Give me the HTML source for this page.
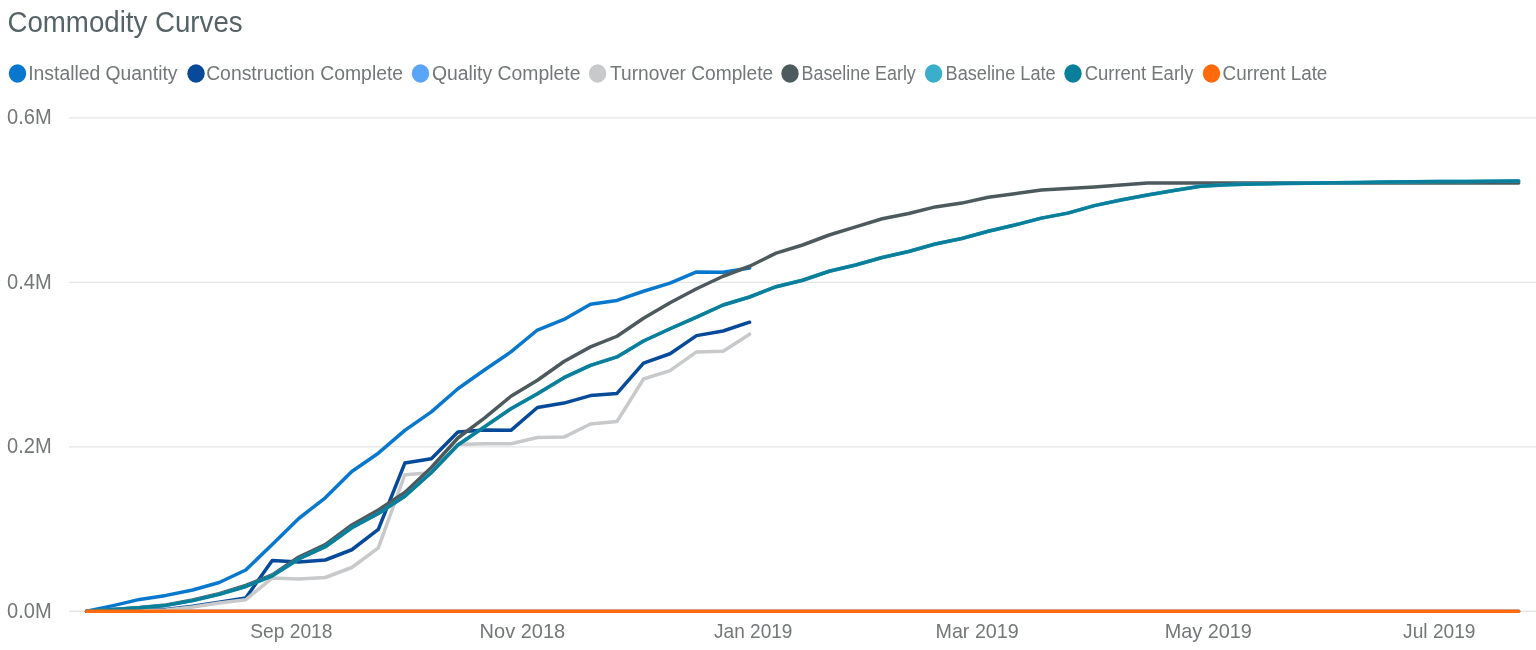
<!DOCTYPE html>
<html lang="en"><head><meta charset="utf-8"><title>Commodity Curves</title>
<style>
html,body{margin:0;padding:0;background:#fff;}
body{width:1536px;height:650px;overflow:hidden;font-family:"Liberation Sans",sans-serif;}
svg{display:block;}
text{font-family:"Liberation Sans",sans-serif;}
.title{font-size:29.4px;fill:#566366;}
.lg{font-size:19.5px;fill:#737778;}
.ax{font-size:21.5px;fill:#737778;}
.xl{font-size:21px;fill:#737778;}
.grid{stroke:#e4e5e5;stroke-width:1.3;}
.ln{fill:none;stroke-width:3.5;stroke-linejoin:round;stroke-linecap:round;}
</style></head><body>
<svg width="1536" height="650" viewBox="0 0 1536 650">
<rect width="1536" height="650" fill="#fff"/>
<text class="title" x="7.47" y="32.00" textLength="235.13" lengthAdjust="spacingAndGlyphs">Commodity Curves</text>
<ellipse cx="17.5" cy="73.5" rx="8.7" ry="9.2" fill="#0878CF"/><text class="lg" x="28.26" y="79.70" textLength="149.27" lengthAdjust="spacingAndGlyphs">Installed Quantity</text>
<ellipse cx="196" cy="73.5" rx="8.7" ry="9.2" fill="#074A9A"/><text class="lg" x="206.15" y="79.70" textLength="196.96" lengthAdjust="spacingAndGlyphs">Construction Complete</text>
<ellipse cx="420.5" cy="73.5" rx="8.7" ry="9.2" fill="#5BA5F8"/><text class="lg" x="431.90" y="79.70" textLength="148.54" lengthAdjust="spacingAndGlyphs">Quality Complete</text>
<ellipse cx="597.6" cy="73.5" rx="8.7" ry="9.2" fill="#C8C9CB"/><text class="lg" x="610.10" y="79.70" textLength="163.14" lengthAdjust="spacingAndGlyphs">Turnover Complete</text>
<ellipse cx="790" cy="73.5" rx="8.7" ry="9.2" fill="#4D5A5D"/><text class="lg" x="801.56" y="79.70" textLength="114.26" lengthAdjust="spacingAndGlyphs">Baseline Early</text>
<ellipse cx="933.6" cy="73.5" rx="8.7" ry="9.2" fill="#3AAFCB"/><text class="lg" x="945.57" y="79.70" textLength="110.10" lengthAdjust="spacingAndGlyphs">Baseline Late</text>
<ellipse cx="1073" cy="73.5" rx="8.7" ry="9.2" fill="#0A7F9B"/><text class="lg" x="1084.65" y="79.70" textLength="108.73" lengthAdjust="spacingAndGlyphs">Current Early</text>
<ellipse cx="1211.5" cy="73.5" rx="8.7" ry="9.2" fill="#FF6B0C"/><text class="lg" x="1222.58" y="79.70" textLength="104.79" lengthAdjust="spacingAndGlyphs">Current Late</text>
<line x1="69" x2="1536" y1="117.90" y2="117.90" class="grid"/>
<line x1="69" x2="1536" y1="282.35" y2="282.35" class="grid"/>
<line x1="69" x2="1536" y1="446.80" y2="446.80" class="grid"/>
<line x1="69" x2="1536" y1="611.25" y2="611.25" class="grid"/>
<text class="ax" x="6.99" y="124.40" textLength="44.66" lengthAdjust="spacingAndGlyphs">0.6M</text>
<text class="ax" x="6.99" y="288.85" textLength="44.66" lengthAdjust="spacingAndGlyphs">0.4M</text>
<text class="ax" x="6.99" y="453.30" textLength="44.66" lengthAdjust="spacingAndGlyphs">0.2M</text>
<text class="ax" x="6.99" y="617.75" textLength="44.66" lengthAdjust="spacingAndGlyphs">0.0M</text>
<polyline class="ln" stroke="#0878CF" points="86.60,611.25 113.12,605.60 139.64,599.40 166.16,595.40 192.68,590.00 219.20,582.50 245.72,570.00 272.24,544.50 298.76,518.50 325.28,497.80 351.80,471.50 378.32,453.20 404.84,430.40 431.36,411.90 457.88,388.75 484.40,370.00 510.92,351.90 537.44,330.00 563.96,319.40 590.48,304.30 617.00,300.40 643.52,291.25 670.04,283.10 696.56,271.90 723.08,272.25 749.60,268.10"/>
<polyline class="ln" stroke="#074A9A" points="86.60,611.25 113.12,611.00 139.64,610.60 166.16,609.50 192.68,606.30 219.20,602.30 245.72,597.90 272.24,560.60 298.76,561.90 325.28,560.00 351.80,549.75 378.32,529.40 404.84,463.10 431.36,458.75 457.88,431.90 484.40,430.00 510.92,430.30 537.44,407.50 563.96,403.10 590.48,395.60 617.00,393.40 643.52,363.10 670.04,353.75 696.56,335.60 723.08,331.00 749.60,322.20"/>
<polyline class="ln" stroke="#5BA5F8" points="86.60,611.25 113.12,611.25 139.64,611.25 166.16,611.25 192.68,611.25 219.20,611.25 245.72,611.25 272.24,611.25 298.76,611.25 325.28,611.25 351.80,611.25 378.32,611.25 404.84,611.25 431.36,611.25 457.88,611.25 484.40,611.25 510.92,611.25 537.44,611.25 563.96,611.25 590.48,611.25 617.00,611.25 643.52,611.25 670.04,611.25 696.56,611.25 723.08,611.25 749.60,611.25 776.12,611.25 802.64,611.25 829.16,611.25 855.68,611.25 882.20,611.25 908.72,611.25 935.24,611.25 961.76,611.25 988.28,611.25 1014.80,611.25 1041.32,611.25 1067.84,611.25 1094.36,611.25 1120.88,611.25 1147.40,611.25 1173.92,611.25 1200.44,611.25 1226.96,611.25 1253.48,611.25 1280.00,611.25 1306.52,611.25 1333.04,611.25 1359.56,611.25 1386.08,611.25 1412.60,611.25 1439.12,611.25 1465.64,611.25 1492.16,611.25 1518.68,611.25"/>
<polyline class="ln" stroke="#C8C9CB" points="86.60,611.25 113.12,611.25 139.64,611.00 166.16,610.00 192.68,606.90 219.20,603.00 245.72,599.75 272.24,577.90 298.76,579.10 325.28,577.50 351.80,567.50 378.32,547.90 404.84,474.70 431.36,472.80 457.88,444.40 484.40,443.75 510.92,443.75 537.44,437.50 563.96,437.10 590.48,424.00 617.00,421.50 643.52,379.00 670.04,370.60 696.56,351.90 723.08,351.25 749.60,334.20"/>
<polyline class="ln" stroke="#4D5A5D" points="86.60,611.25 113.12,609.40 139.64,607.50 166.16,605.00 192.68,600.00 219.20,593.60 245.72,585.50 272.24,575.00 298.76,557.00 325.28,544.60 351.80,525.00 378.32,510.00 404.84,492.50 431.36,467.50 457.88,438.00 484.40,418.10 510.92,396.25 537.44,380.30 563.96,361.50 590.48,346.90 617.00,336.25 643.52,318.30 670.04,302.80 696.56,288.75 723.08,276.25 749.60,266.25 776.12,253.10 802.64,245.00 829.16,235.00 855.68,226.90 882.20,218.75 908.72,213.50 935.24,206.90 961.76,203.10 988.28,197.25 1014.80,193.75 1041.32,190.00 1067.84,188.50 1094.36,186.90 1120.88,185.00 1147.40,183.10 1173.92,183.09 1200.44,183.07 1226.96,183.06 1253.48,183.04 1280.00,183.03 1306.52,183.01 1333.04,183.00 1359.56,182.98 1386.08,182.97 1412.60,182.95 1439.12,182.94 1465.64,182.92 1492.16,182.91 1518.68,182.89"/>
<polyline class="ln" stroke="#3AAFCB" points="86.60,611.25 113.12,609.60 139.64,607.75 166.16,605.40 192.68,600.60 219.20,594.40 245.72,586.50 272.24,575.80 298.76,559.00 325.28,546.70 351.80,527.80 378.32,513.50 404.84,496.20 431.36,472.50 457.88,445.00 484.40,426.90 510.92,408.75 537.44,393.75 563.96,377.70 590.48,365.30 617.00,356.90 643.52,341.00 670.04,328.75 696.56,317.20 723.08,305.00 749.60,297.00 776.12,286.70 802.64,280.25 829.16,271.25 855.68,265.00 882.20,257.50 908.72,251.50 935.24,244.00 961.76,238.50 988.28,231.25 1014.80,225.00 1041.32,218.10 1067.84,213.10 1094.36,205.60 1120.88,200.00 1147.40,195.00 1173.92,190.60 1200.44,186.25 1226.96,184.75 1253.48,183.90 1280.00,183.60 1306.52,183.20 1333.04,182.80 1359.56,182.40 1386.08,182.10 1412.60,181.80 1439.12,181.60 1465.64,181.40 1492.16,181.20 1518.68,181.00"/>
<polyline class="ln" stroke="#0A7F9B" points="86.60,611.25 113.12,609.60 139.64,607.75 166.16,605.40 192.68,600.60 219.20,594.40 245.72,586.50 272.24,575.80 298.76,559.00 325.28,546.70 351.80,527.80 378.32,513.50 404.84,496.20 431.36,472.50 457.88,445.00 484.40,426.90 510.92,408.75 537.44,393.75 563.96,377.70 590.48,365.30 617.00,356.90 643.52,341.00 670.04,328.75 696.56,317.20 723.08,305.00 749.60,297.00 776.12,286.70 802.64,280.25 829.16,271.25 855.68,265.00 882.20,257.50 908.72,251.50 935.24,244.00 961.76,238.50 988.28,231.25 1014.80,225.00 1041.32,218.10 1067.84,213.10 1094.36,205.60 1120.88,200.00 1147.40,195.00 1173.92,190.60 1200.44,186.25 1226.96,184.75 1253.48,183.90 1280.00,183.60 1306.52,183.20 1333.04,182.80 1359.56,182.40 1386.08,182.10 1412.60,181.80 1439.12,181.60 1465.64,181.40 1492.16,181.20 1518.68,181.00"/>
<polyline class="ln" stroke="#FF6B0C" points="86.60,611.25 113.12,611.25 139.64,611.25 166.16,611.25 192.68,611.25 219.20,611.25 245.72,611.25 272.24,611.25 298.76,611.25 325.28,611.25 351.80,611.25 378.32,611.25 404.84,611.25 431.36,611.25 457.88,611.25 484.40,611.25 510.92,611.25 537.44,611.25 563.96,611.25 590.48,611.25 617.00,611.25 643.52,611.25 670.04,611.25 696.56,611.25 723.08,611.25 749.60,611.25 776.12,611.25 802.64,611.25 829.16,611.25 855.68,611.25 882.20,611.25 908.72,611.25 935.24,611.25 961.76,611.25 988.28,611.25 1014.80,611.25 1041.32,611.25 1067.84,611.25 1094.36,611.25 1120.88,611.25 1147.40,611.25 1173.92,611.25 1200.44,611.25 1226.96,611.25 1253.48,611.25 1280.00,611.25 1306.52,611.25 1333.04,611.25 1359.56,611.25 1386.08,611.25 1412.60,611.25 1439.12,611.25 1465.64,611.25 1492.16,611.25 1518.68,611.25"/>
<text class="xl" x="250.24" y="638.00" textLength="82.26" lengthAdjust="spacingAndGlyphs">Sep 2018</text>
<text class="xl" x="479.62" y="638.00" textLength="85.57" lengthAdjust="spacingAndGlyphs">Nov 2018</text>
<text class="xl" x="714.06" y="638.00" textLength="78.40" lengthAdjust="spacingAndGlyphs">Jan 2019</text>
<text class="xl" x="935.46" y="638.00" textLength="83.29" lengthAdjust="spacingAndGlyphs">Mar 2019</text>
<text class="xl" x="1164.65" y="638.00" textLength="87.27" lengthAdjust="spacingAndGlyphs">May 2019</text>
<text class="xl" x="1403.11" y="638.00" textLength="72.39" lengthAdjust="spacingAndGlyphs">Jul 2019</text>
</svg>
</body></html>
